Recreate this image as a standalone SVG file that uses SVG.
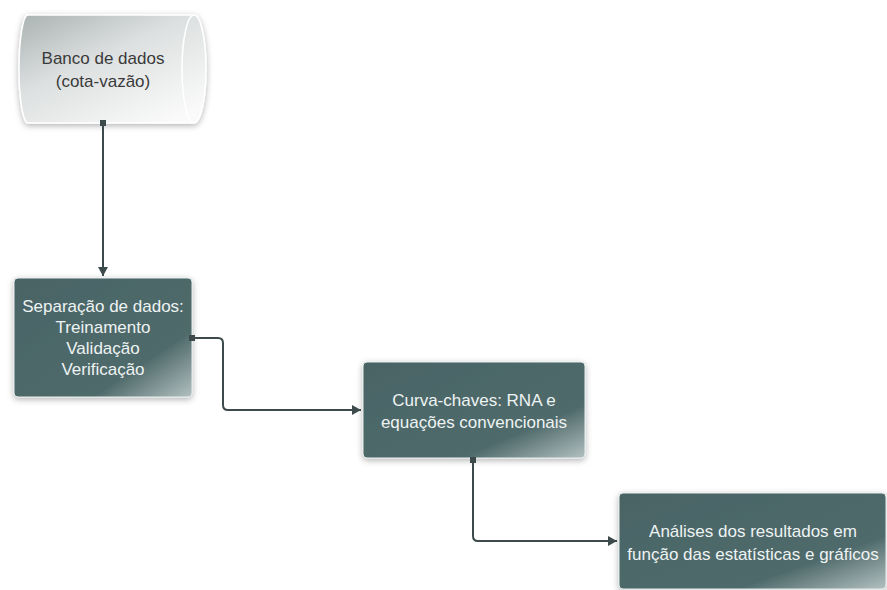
<svg xmlns="http://www.w3.org/2000/svg" width="887" height="590" viewBox="0 0 887 590">
<defs>
<linearGradient id="boxGrad" x1="0" y1="0" x2="1" y2="1">
<stop offset="0" stop-color="#4a6465"/>
<stop offset="0.72" stop-color="#4f6a6b"/>
<stop offset="1" stop-color="#b3c0c0"/>
</linearGradient>
<linearGradient id="cylGrad" x1="0" y1="0" x2="0.8" y2="1">
<stop offset="0" stop-color="#aab2b2"/>
<stop offset="0.45" stop-color="#dde0e0"/>
<stop offset="1" stop-color="#fafafa"/>
</linearGradient>
<filter id="shadow" x="-10%" y="-10%" width="120%" height="130%">
<feDropShadow dx="0" dy="2" stdDeviation="3" flood-color="#000" flood-opacity="0.3"/>
</filter>
<marker id="sq" markerWidth="6" markerHeight="6" refX="3" refY="3" markerUnits="userSpaceOnUse">
<rect x="0" y="0" width="6" height="6" fill="#3c4a4b"/>
</marker>
<marker id="arr" markerWidth="10" markerHeight="10" refX="9" refY="5" orient="auto" markerUnits="userSpaceOnUse">
<path d="M0,0 L9,5 L0,10 Z" fill="#3c4a4b"/>
</marker>
<style>
.box{fill:url(#boxGrad);stroke:#e6ecec;stroke-width:1;filter:url(#shadow)}
.lt{font-family:"Liberation Sans",Arial,sans-serif;font-size:17px;fill:#eef3f3;text-anchor:middle}
.dt{font-family:"Liberation Sans",Arial,sans-serif;font-size:17px;fill:#3a3a3a;text-anchor:middle}
.con{fill:none;stroke:#3c4a4b;stroke-width:2;stroke-linejoin:round;marker-start:url(#sq);marker-end:url(#arr)}
</style>
</defs>
<g id="node-banco">
<path d="M28,15 L194,15 A12,54 0 0 1 194,123 L28,123 A9,54 0 0 1 28,15 Z" fill="url(#cylGrad)" stroke="#ffffff" stroke-width="1.5" filter="url(#shadow)"/>
<path d="M194,15 A12,54 0 0 0 194,123" fill="none" stroke="#ffffff" stroke-width="1.5"/>
<text class="dt" x="103" y="64">Banco de dados</text>
<text class="dt" x="103" y="87">(cota-vazão)</text>
</g>
<g id="node-separacao">
<rect class="box" x="14" y="278" width="178" height="119" rx="4"/>
<text class="lt" x="103" y="312">Separação de dados:</text>
<text class="lt" x="103" y="333">Treinamento</text>
<text class="lt" x="103" y="354">Validação</text>
<text class="lt" x="103" y="375">Verificação</text>
</g>
<g id="node-curva">
<rect class="box" x="363" y="362" width="222" height="96" rx="4"/>
<text class="lt" x="474" y="406">Curva-chaves: RNA e</text>
<text class="lt" x="474" y="428">equações convencionais</text>
</g>
<g id="node-analises">
<rect class="box" x="619" y="493" width="267" height="96" rx="4"/>
<text class="lt" x="753" y="537">Análises dos resultados em</text>
<text class="lt" x="753" y="560">função das estatísticas e gráficos</text>
</g>
<g id="connectors">
<path class="con" d="M103,123 L103,276"/>
<path class="con" d="M192,338 L218,338 Q223,338 223,343 L223,405 Q223,410 228,410 L361,410"/>
<path class="con" d="M473,460 L473,536 Q473,541 478,541 L617,541"/>
</g>
</svg>
